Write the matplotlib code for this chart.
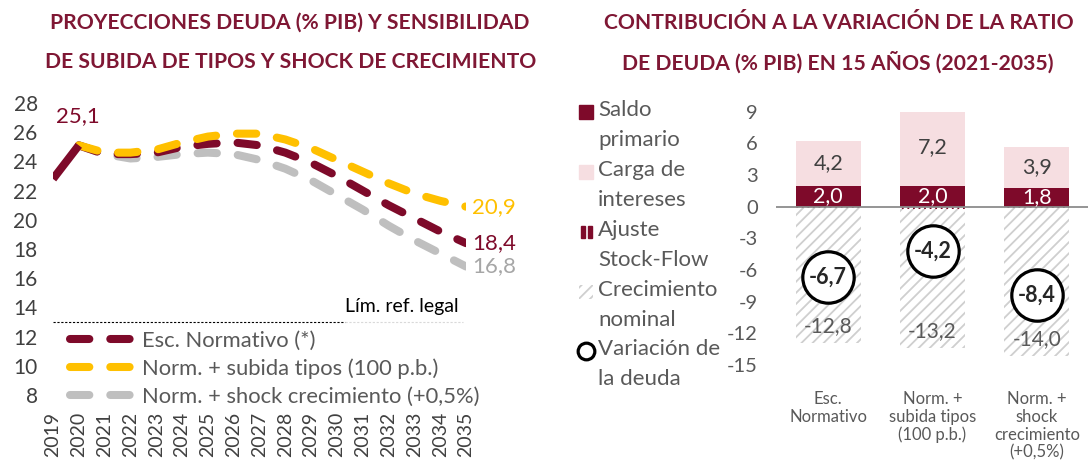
import matplotlib
matplotlib.use('Agg')
import matplotlib.pyplot as plt
from matplotlib.lines import Line2D
from matplotlib.patches import Rectangle
import numpy as np

plt.rcParams['font.family'] = ['Lato', 'DejaVu Sans']
plt.rcParams['hatch.linewidth'] = 1.3
plt.rcParams['axes.unicode_minus'] = False

# Datos gráfico izquierdo
years = list(range(2019, 2036))
esc_normativo = [22.8, 25.1, 24.5, 24.5, 24.6, 25.0, 25.2, 25.3, 25.1, 24.6,
                 23.9, 23.0, 22.0, 21.0, 20.1, 19.2, 18.4]
subida_tipos = [None, 25.1, 24.6, 24.6, 24.8, 25.3, 25.7, 25.9, 25.9, 25.5,
                24.9, 24.1, 23.3, 22.5, 21.8, 21.3, 20.9]
shock_crec = [None, 25.1, 24.5, 24.2, 24.3, 24.5, 24.6, 24.5, 24.1, 23.5,
              22.7, 21.7, 20.7, 19.6, 18.6, 17.7, 16.8]
lim_legal = 13

# Datos gráfico derecho
escenarios = ['Esc.\nNormativo', 'Norm. +\nsubida tipos\n(100 p.b.)',
              'Norm. +\nshock\ncrecimiento\n(+0,5%)']
saldo_primario = [2.0, 2.0, 1.8]
carga_intereses = [4.2, 7.2, 3.9]
ajuste_sf = [-0.1, -0.2, -0.1]
crec_nominal = [-12.8, -13.2, -14.0]
variacion = [-6.7, -4.2, -8.4]

ROJO = '#7E0A2A'
AMARILLO = '#FFC000'
GRIS = '#BFBFBF'
ROSA = '#F6DEE1'
TITULO = '#7F1734'
TXT = '#595959'

def fmt(v):
    return f'{v:.1f}'.replace('.', ',')

W, H = 1088, 462
fig = plt.figure(figsize=(W / 100, H / 100), dpi=100)

# Títulos
tit = dict(ha='center', va='center', fontsize=15.2, fontweight='bold', color=TITULO)
fig.text(290 / W, 1 - 23 / H, 'PROYECCIONES DEUDA (% PIB) Y SENSIBILIDAD', **tit)
fig.text(291 / W, 1 - 62 / H, 'DE SUBIDA DE TIPOS Y SHOCK DE CRECIMIENTO', **tit)
fig.text(839 / W, 1 - 23 / H, 'CONTRIBUCIÓN A LA VARIACIÓN DE LA RATIO', **tit)
fig.text(838 / W, 1 - 62 / H, 'DE DEUDA (% PIB) EN 15 AÑOS (2021-2035)', **tit)

# ---- Gráfico izquierdo ----
ax1 = fig.add_axes([53 / W, 1 - 395 / H, 413 / W, 292 / H])
yrs = np.array(years)
normv = np.array(esc_normativo, dtype=float)
tipv = np.array([np.nan if v is None else v for v in subida_tipos])
shkv = np.array([np.nan if v is None else v for v in shock_crec])

dash = dict(lw=5.8, dash_capstyle='round', solid_capstyle='round', dashes=(2.4, 2.6))
ax1.plot(yrs[1:], shkv[1:], color=GRIS, label='Norm. + shock crecimiento (+0,5%)', zorder=2, **dash)
ax1.plot(yrs[1:], normv[1:], color=ROJO, label='Esc. Normativo (*)', zorder=3, **dash)
ax1.plot(yrs[1:], tipv[1:], color=AMARILLO, label='Norm. + subida tipos (100 p.b.)', zorder=4, **dash)
ax1.plot(yrs[:2], normv[:2], color=ROJO, lw=5.8, solid_capstyle='butt', zorder=5)

ax1.plot([2019, 2030.3], [lim_legal, lim_legal], color='black', lw=0.8, ls=(0, (2, 1.5)))
ax1.plot([2030.3, 2034.9], [lim_legal, lim_legal], color='#D9D9D9', lw=0.8, ls=(0, (2, 1.5)))
ax1.text(2034.7, lim_legal + 0.45, 'Lím. ref. legal', ha='right', va='bottom',
         fontsize=14, color='black')

ax1.text(2019.95, normv[1] + 1.3, fmt(normv[1]), ha='center', va='bottom',
         fontsize=16, color=ROJO)
lab = dict(ha='left', va='center', fontsize=16)
ax1.text(2035.25, tipv[-1], fmt(tipv[-1]), color=AMARILLO, **lab)
ax1.text(2035.25, normv[-1], fmt(normv[-1]), color=ROJO, **lab)
ax1.text(2035.25, shkv[-1], fmt(shkv[-1]), color='#A6A6A6', **lab)

ax1.set_xlim(2019, 2035)
ax1.set_ylim(8, 28)
ax1.set_yticks(range(8, 29, 2))
ax1.set_xticks(years)
ax1.set_xticklabels([str(y) for y in years], rotation=90, fontsize=14, color='#404040')
ax1.tick_params(axis='y', labelsize=15, labelcolor='#404040', length=0, pad=11)
ax1.tick_params(axis='x', length=0, pad=12)
for s in ax1.spines.values():
    s.set_visible(False)
h, l = ax1.get_legend_handles_labels()
orden = [1, 2, 0]
ax1.legend([h[i] for i in orden], [l[i] for i in orden], loc='upper left',
           bbox_to_anchor=(0.04, 0.22), frameon=False, fontsize=15.8, labelcolor=TXT,
           handlelength=3.2, handletextpad=0.1, labelspacing=0.35, borderpad=0,
           borderaxespad=0)

# ---- Gráfico derecho ----
ax2 = fig.add_axes([776 / W, 1 - 365 / H, 313 / W, 253.3 / H])
x = np.arange(len(escenarios))
bw = 0.62
ax2.bar(x, saldo_primario, bw, color=ROJO, zorder=2)
ax2.bar(x, carga_intereses, bw, bottom=saldo_primario, color=ROSA, zorder=2)
ax2.bar(x, ajuste_sf, bw, color='white', edgecolor=ROJO, hatch='|||', lw=0, zorder=2)
ax2.bar(x, crec_nominal, bw, bottom=ajuste_sf, color='white', edgecolor='#CFCFCF',
        hatch='///', lw=0, zorder=2)
ax2.axhline(0, color='#8C8C8C', lw=1.3, zorder=3)

for i in x:
    ax2.text(i, saldo_primario[i] / 2, fmt(saldo_primario[i]), ha='center', va='center',
             fontsize=15.5, color='white', zorder=4)
    ax2.text(i, saldo_primario[i] + carga_intereses[i] / 2, fmt(carga_intereses[i]),
             ha='center', va='center', fontsize=15.5, color='#404040', zorder=4)
    ax2.text(i, ajuste_sf[i] + crec_nominal[i] + 1.6, fmt(crec_nominal[i]), ha='center',
             va='center', fontsize=15, color=TXT, zorder=4)
ax2.plot(x, variacion, ls='none', marker='o', ms=37, mfc='white', mec='black', mew=2.3, zorder=5)
for i in x:
    ax2.text(i, variacion[i], fmt(variacion[i]), ha='center', va='center', fontsize=15.5,
             fontweight='bold', color='#262626', zorder=6)

ax2.set_xlim(-0.5, 2.5)
ax2.set_ylim(-15, 9)
ax2.set_yticks(range(-15, 10, 3))
ax2.set_xticks(x)
ax2.set_xticklabels(escenarios, fontsize=12, color=TXT, linespacing=1.13, va='top')
ax2.tick_params(axis='y', labelsize=14.5, labelcolor=TXT, length=0, pad=13)
ax2.tick_params(axis='x', length=0, pad=19)
for s in ax2.spines.values():
    s.set_visible(False)

# Leyenda derecha (manual, símbolo alineado con la primera línea)
leyenda = [('Saldo\nprimario', 'sq_rojo', 112),
           ('Carga de\nintereses', 'sq_rosa', 172),
           ('Ajuste\nStock-Flow', 'sf', 232),
           ('Crecimiento\nnominal', 'crec', 292),
           ('Variación de\nla deuda', 'circ', 351)]
for texto, tipo, yp in leyenda:
    fig.text(598 / W, 1 - (yp - 12) / H, texto, ha='left', va='top', fontsize=16,
             color=TXT, linespacing=1.6)
    cy = 1 - yp / H
    if tipo == 'sq_rojo':
        fig.add_artist(Rectangle((579 / W, cy - 7 / H), 14 / W, 14 / H, color=ROJO,
                                 transform=fig.transFigure))
    elif tipo == 'sq_rosa':
        fig.add_artist(Rectangle((579 / W, cy - 7 / H), 14 / W, 14 / H, color=ROSA,
                                 transform=fig.transFigure))
    elif tipo == 'sf':
        for dx in (581, 588):
            fig.add_artist(Rectangle((dx / W, cy - 6 / H), 3.5 / W, 12 / H, color=ROJO,
                                     transform=fig.transFigure))
    elif tipo == 'crec':
        fig.add_artist(Rectangle((579 / W, cy - 7 / H), 14 / W, 14 / H, facecolor='white',
                                 edgecolor='#CFCFCF', hatch='///', lw=0,
                                 transform=fig.transFigure))
    else:
        fig.add_artist(Line2D([586 / W], [cy], marker='o', ms=12, mfc='white', mec='black',
                              mew=2.3, transform=fig.transFigure))

fig.savefig('out.png', dpi=100)
